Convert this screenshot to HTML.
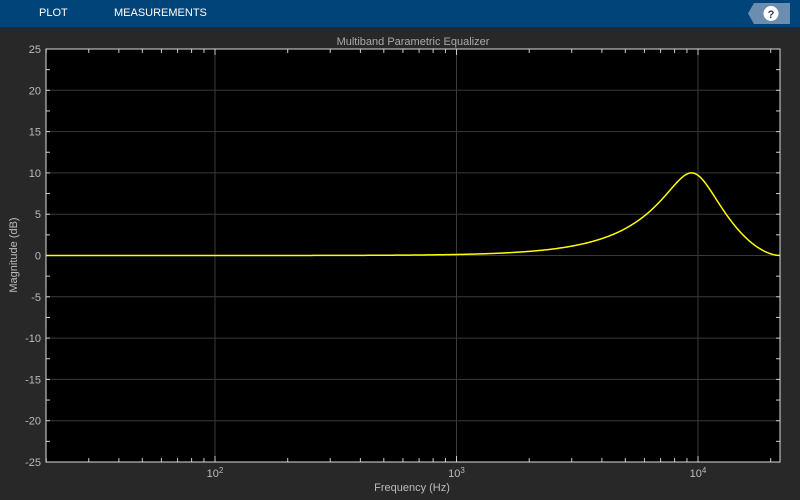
<!DOCTYPE html>
<html><head><meta charset="utf-8"><style>
body{margin:0;width:800px;height:500px;background:#282828;overflow:hidden;font-family:"Liberation Sans",sans-serif}
#bar{position:absolute;left:0;top:0;width:800px;height:27px;background:#00447a}
.t{position:absolute;top:7px;color:#fff;font-size:11px}
</style></head><body>
<div id="bar"></div>
<div class="t" style="left:39px">PLOT</div>
<div class="t" style="left:114px">MEASUREMENTS</div>
<svg style="position:absolute;left:0;top:0" width="800" height="500">
<polygon points="754,3 790,3 790,24 754,24 748,13.5" fill="#6b8db0"/>
<circle cx="771" cy="13.5" r="7.5" fill="#fff"/>
<text x="771" y="18" font-size="11" font-weight="bold" fill="#1f3d5c" text-anchor="middle" font-family="Liberation Sans">?</text>
<g id="g"></g>
</svg>
<script>
var L=46,R=780,T=49,B=462,g=document.getElementById('g'),s='';
function X(f){return 215+(Math.log10(f)-2)*241.5}
function Y(d){return 255.5-d*8.26}
s+='<rect x="'+L+'" y="'+T+'" width="'+(R-L)+'" height="'+(B-T)+'" fill="#000"/>';
for(var d=-20;d<=20;d+=5)s+='<line x1="'+L+'" x2="'+R+'" y1="'+Y(d)+'" y2="'+Y(d)+'" stroke="#3a3a3a"/>';
[100,1000,10000].forEach(function(f){s+='<line y1="'+T+'" y2="'+B+'" x1="'+X(f)+'" x2="'+X(f)+'" stroke="#3a3a3a"/>'});
for(var d=-25;d<=25;d+=2.5){var y=Y(d);s+='<line x1="'+L+'" x2="'+(L+4)+'" y1="'+y+'" y2="'+y+'" stroke="#ccc"/><line x1="'+R+'" x2="'+(R-4)+'" y1="'+y+'" y2="'+y+'" stroke="#ccc"/>';}
for(var e=1;e<=4;e++)for(var m=1;m<10;m++){var f=m*Math.pow(10,e);if(f<20||f>22050)continue;var x=X(f),l=m==1?6:4;s+='<line x1="'+x+'" x2="'+x+'" y1="'+T+'" y2="'+(T+l)+'" stroke="#ccc"/><line x1="'+x+'" x2="'+x+'" y1="'+B+'" y2="'+(B-l)+'" stroke="#ccc"/>';}
s+='<rect x="'+L+'" y="'+T+'" width="'+(R-L)+'" height="'+(B-T)+'" fill="none" stroke="#ddd"/>';
for(var d=-25;d<=25;d+=5)s+='<text x="41" y="'+(Y(d)+4)+'" font-size="11" fill="#bbb" text-anchor="end">'+d+'</text>';
[[100,'2'],[1000,'3'],[10000,'4']].forEach(function(a){s+='<text x="'+X(a[0])+'" y="477" font-size="11" fill="#bbb" text-anchor="middle">10<tspan font-size="8" dy="-4">'+a[1]+'</tspan></text>'});
s+='<text x="412" y="491" font-size="11" fill="#bbb" text-anchor="middle">Frequency (Hz)</text>';
s+='<text x="17" y="255" font-size="11" fill="#bbb" text-anchor="middle" transform="rotate(-90 17 255)">Magnitude (dB)</text>';
s+='<text x="413" y="45" font-size="11" fill="#aaa" text-anchor="middle">Multiband Parametric Equalizer</text>';
var fs=44100,f0=9400,G=10,Q=0.9,A=Math.pow(10,G/40),w0=2*Math.PI*f0/fs,al=Math.sin(w0)/(2*Q),c=Math.cos(w0);
var b0=1+al*A,b1=-2*c,b2=1-al*A,a0=1+al/A,a1=-2*c,a2=1-al/A;
function H(f){var w=2*Math.PI*f/fs,cr=Math.cos(w),ci=-Math.sin(w),c2=Math.cos(2*w),s2=-Math.sin(2*w);
var nr=b0+b1*cr+b2*c2,ni=b1*ci+b2*s2,dr=a0+a1*cr+a2*c2,di=a1*ci+a2*s2;return 10*Math.log10((nr*nr+ni*ni)/(dr*dr+di*di));}
var p='';for(var x=L;x<=R;x+=1){var f=Math.pow(10,2+(x-215)/241.5);if(f>22049)f=22049;p+=(p?'L':'M')+x+','+Y(H(f)).toFixed(2);}
s+='<path d="'+p+'" fill="none" stroke="#ffff00" stroke-width="1.5"/>';
g.innerHTML=s;
</script>
</body></html>
